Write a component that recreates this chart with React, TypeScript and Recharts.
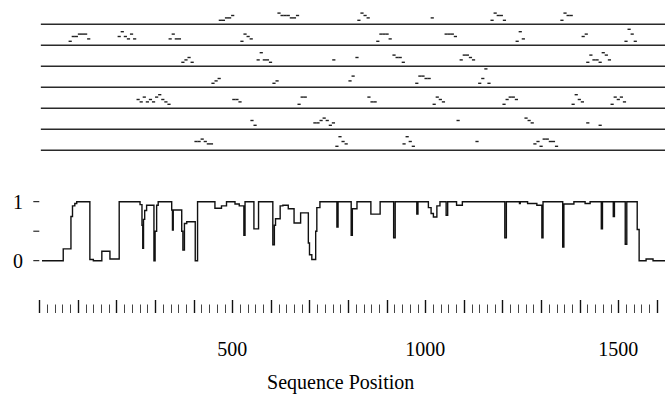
import React from 'react';
import {
  ScatterChart,
  Scatter,
  LineChart,
  Line,
  XAxis,
  YAxis,
  ReferenceLine,
} from 'recharts';

const WIDTH = 665;
const LEFT = 39.3;
const X_DOMAIN: [number, number] = [0, 1621];
const FONT = '"Liberation Serif", "Times New Roman", serif';

// 上段のトラック: [開始位置, 高さパターン] (1文字 = 8残基ぶんの小さなダッシュ, 空白は隙間)
const track0: [number, string][] = [
  [469, '00112'], [621, '3222112'], [828, '0321'], [1018, '1'], [1173, '03220'], [1354, '0322'],
];
const track1: [number, string][] = [
  [80, '0223331'], [207, '242131'], [339, '1311'], [525, '0321'], [877, '03331'],
  [1054, '3332'], [1238, '041'], [1409, '23'], [1520, '0530'],
];
const track2: [number, string][] = [
  [372, '0120'], [567, '14110'], [763, '1'], [823, '2'], [919, '3220'], [1093, '13321'], [1421, '03110431'],
];
const track3: [number, string][] = [
  [450, '012'], [608, '01'], [805, '13'], [978, '03322'], [1141, '0260'],
];
const track4: [number, string][] = [
  [256, '21312134210'], [504, '221'], [673, '033'], [854, '311'], [1023, '0321'],
  [1204, '02332'], [1383, '0421'], [1484, '03231'],
];
const track5: [number, string][] = [
  [551, '20'], [714, '1123201'], [1085, '2'], [1261, '321'], [1421, '1'], [1453, '0'],
];
const track6: [number, string][] = [
  [406, '223211'], [771, '0421'], [945, '1420'], [1134, '2'], [1284, '12033220'],
];
const tracks = [track0, track1, track2, track3, track4, track5, track6];
const DASH_STEP = 8;

// 中段のプロファイル (stepAfter): [位置, 値]
const profile: [number, number][] = [
  [7, 0], [62, 0.2], [82, 0.75], [86, 0.93], [92, 0.97], [97, 1], [131, 0.02], [140, 0],
  [162, 0.16], [183, 0.03], [207, 1], [261, 0.95], [266, 0.6], [268, 0.21], [270, 0.7],
  [273, 0.85], [278, 0.94], [297, 0], [300, 0.5], [304, 0.94], [308, 1], [343, 0.86],
  [345, 0.52], [347, 0.86], [369, 0.5], [372, 0.18], [376, 0.63], [382, 0.66], [404, 0],
  [410, 1], [455, 0.89], [472, 0.93], [485, 1], [507, 0.96], [518, 0.93], [530, 0.43],
  [533, 1], [556, 0.54], [568, 1], [605, 0.27], [609, 0.6], [612, 0.71], [624, 0.93],
  [631, 0.94], [645, 0.88], [660, 0.64], [677, 0.81], [697, 0.3], [700, 0.1], [706, 0.02],
  [716, 0.5], [719, 0.9], [727, 1], [771, 0.57], [774, 1], [808, 0.43], [811, 0.88],
  [823, 1], [859, 0.79], [883, 1], [918, 0.39], [922, 1], [978, 0.79], [981, 1],
  [1008, 0.9], [1015, 0.8], [1021, 0.74], [1030, 0.93], [1038, 1], [1054, 0.77],
  [1058, 1], [1081, 0.94], [1096, 1], [1206, 0.39], [1210, 1], [1244, 0.97], [1246, 1],
  [1265, 0.97], [1289, 0.94], [1302, 0.39], [1305, 1], [1356, 0.23], [1359, 0.96],
  [1385, 1], [1414, 0.97], [1427, 1], [1456, 0.54], [1459, 1], [1487, 0.75], [1490, 1],
  [1518, 0.28], [1522, 1], [1549, 0.53], [1554, 0], [1572, 0.03], [1590, 0], [1625, 0],
];

// 下段のルーラー
const RULER_STEP = 20;
const RULER_MAX = 1600;
const rulerLabels = [500, 1000, 1500];
const yTicks = [0, 0.5, 1];

const markData = tracks.flatMap((row, r) =>
  row.flatMap(([start, pat]) =>
    pat
      .split('')
      .map((c, i) =>
        c === ' ' ? null : { pos: start + i * DASH_STEP, y: r - (4 + 2.4 * Number(c)) / 21 }
      )
      .filter((d): d is { pos: number; y: number } => d !== null)
  )
);

const profileData = profile.map(([pos, val]) => ({ pos, val }));
const rulerTicks = Array.from({ length: RULER_MAX / RULER_STEP + 1 }, (_, i) => i * RULER_STEP);

const Dash = (props: any) => (
  <rect x={props.cx - 1.6} y={props.cy - 0.7} width={3.2} height={1.4} fill="#222" />
);

const RulerTick = (props: any) => {
  const { x, y, payload } = props;
  const v = Math.round(Number(payload.value));
  const major = v % 100 === 0;
  const px = Math.round(x) + 0.5;
  return (
    <g>
      <line
        x1={px}
        x2={px}
        y1={y - (major ? 13 : 8.5)}
        y2={y}
        stroke={major ? '#111' : '#444'}
        strokeWidth={major ? 1.4 : 1}
      />
      {rulerLabels.includes(v) && (
        <text x={x} y={y + 43} textAnchor="middle" fontFamily={FONT} fontSize={20} fill="#000">
          {v}
        </text>
      )}
    </g>
  );
};

export default function App() {
  return (
    <div
      style={{
        position: 'absolute',
        left: 0,
        top: 0,
        width: WIDTH,
        height: 397,
        background: '#fff',
        overflow: 'hidden',
      }}
    >
      <div style={{ position: 'absolute', left: 0, top: 0 }}>
        <ScatterChart width={WIDTH} height={175} margin={{ top: 3.3, right: 0, bottom: 3.7, left: LEFT }}>
          <XAxis type="number" dataKey="pos" domain={X_DOMAIN} allowDataOverflow hide />
          <YAxis type="number" dataKey="y" domain={[-1, 7]} reversed allowDataOverflow hide />
          {tracks.map((_, k) => (
            <ReferenceLine
              key={k}
              segment={[{ x: 4, y: k }, { x: X_DOMAIN[1], y: k }]}
              stroke="#2a2a2a"
              strokeWidth={1.6}
            />
          ))}
          <Scatter data={markData} shape={Dash} isAnimationActive={false} />
        </ScatterChart>
      </div>

      <div style={{ position: 'absolute', left: 0, top: 180 }}>
        <LineChart
          width={WIDTH}
          height={100}
          data={profileData}
          margin={{ top: 21.7, right: 0, bottom: 19.3, left: 0 }}
        >
          <XAxis type="number" dataKey="pos" domain={X_DOMAIN} allowDataOverflow hide />
          <YAxis
            type="number"
            domain={[0, 1]}
            ticks={yTicks}
            width={LEFT}
            axisLine={false}
            tickLine={{ stroke: '#000' }}
            tickSize={6}
            tickMargin={10.3}
            tick={{ fontFamily: FONT, fontSize: 20, fill: '#000' }}
            tickFormatter={(v: number) => (v === 0.5 ? '' : String(v))}
          />
          <Line
            type="stepAfter"
            dataKey="val"
            stroke="#111"
            strokeWidth={1.4}
            dot={false}
            isAnimationActive={false}
          />
        </LineChart>
      </div>

      <div style={{ position: 'absolute', left: 0, top: 280 }}>
        <LineChart
          width={WIDTH}
          height={117}
          data={[{ pos: 0, v: 0 }, { pos: X_DOMAIN[1], v: 0 }]}
          margin={{ top: 0, right: 0, bottom: 0, left: LEFT }}
        >
          <XAxis
            type="number"
            dataKey="pos"
            domain={X_DOMAIN}
            ticks={rulerTicks}
            interval={0}
            axisLine={false}
            tickLine={false}
            tickSize={0}
            tickMargin={0}
            height={84}
            tick={RulerTick}
            label={(p: any) => (
              <text
                x={p.viewBox.x + p.viewBox.width / 2 - 11.5}
                y={p.viewBox.y + 76}
                textAnchor="middle"
                fontFamily={FONT}
                fontSize={20}
                fill="#000"
              >
                Sequence Position
              </text>
            )}
          />
          <YAxis hide domain={[0, 1]} />
          <Line dataKey="v" stroke="none" dot={false} isAnimationActive={false} />
        </LineChart>
      </div>
    </div>
  );
}
